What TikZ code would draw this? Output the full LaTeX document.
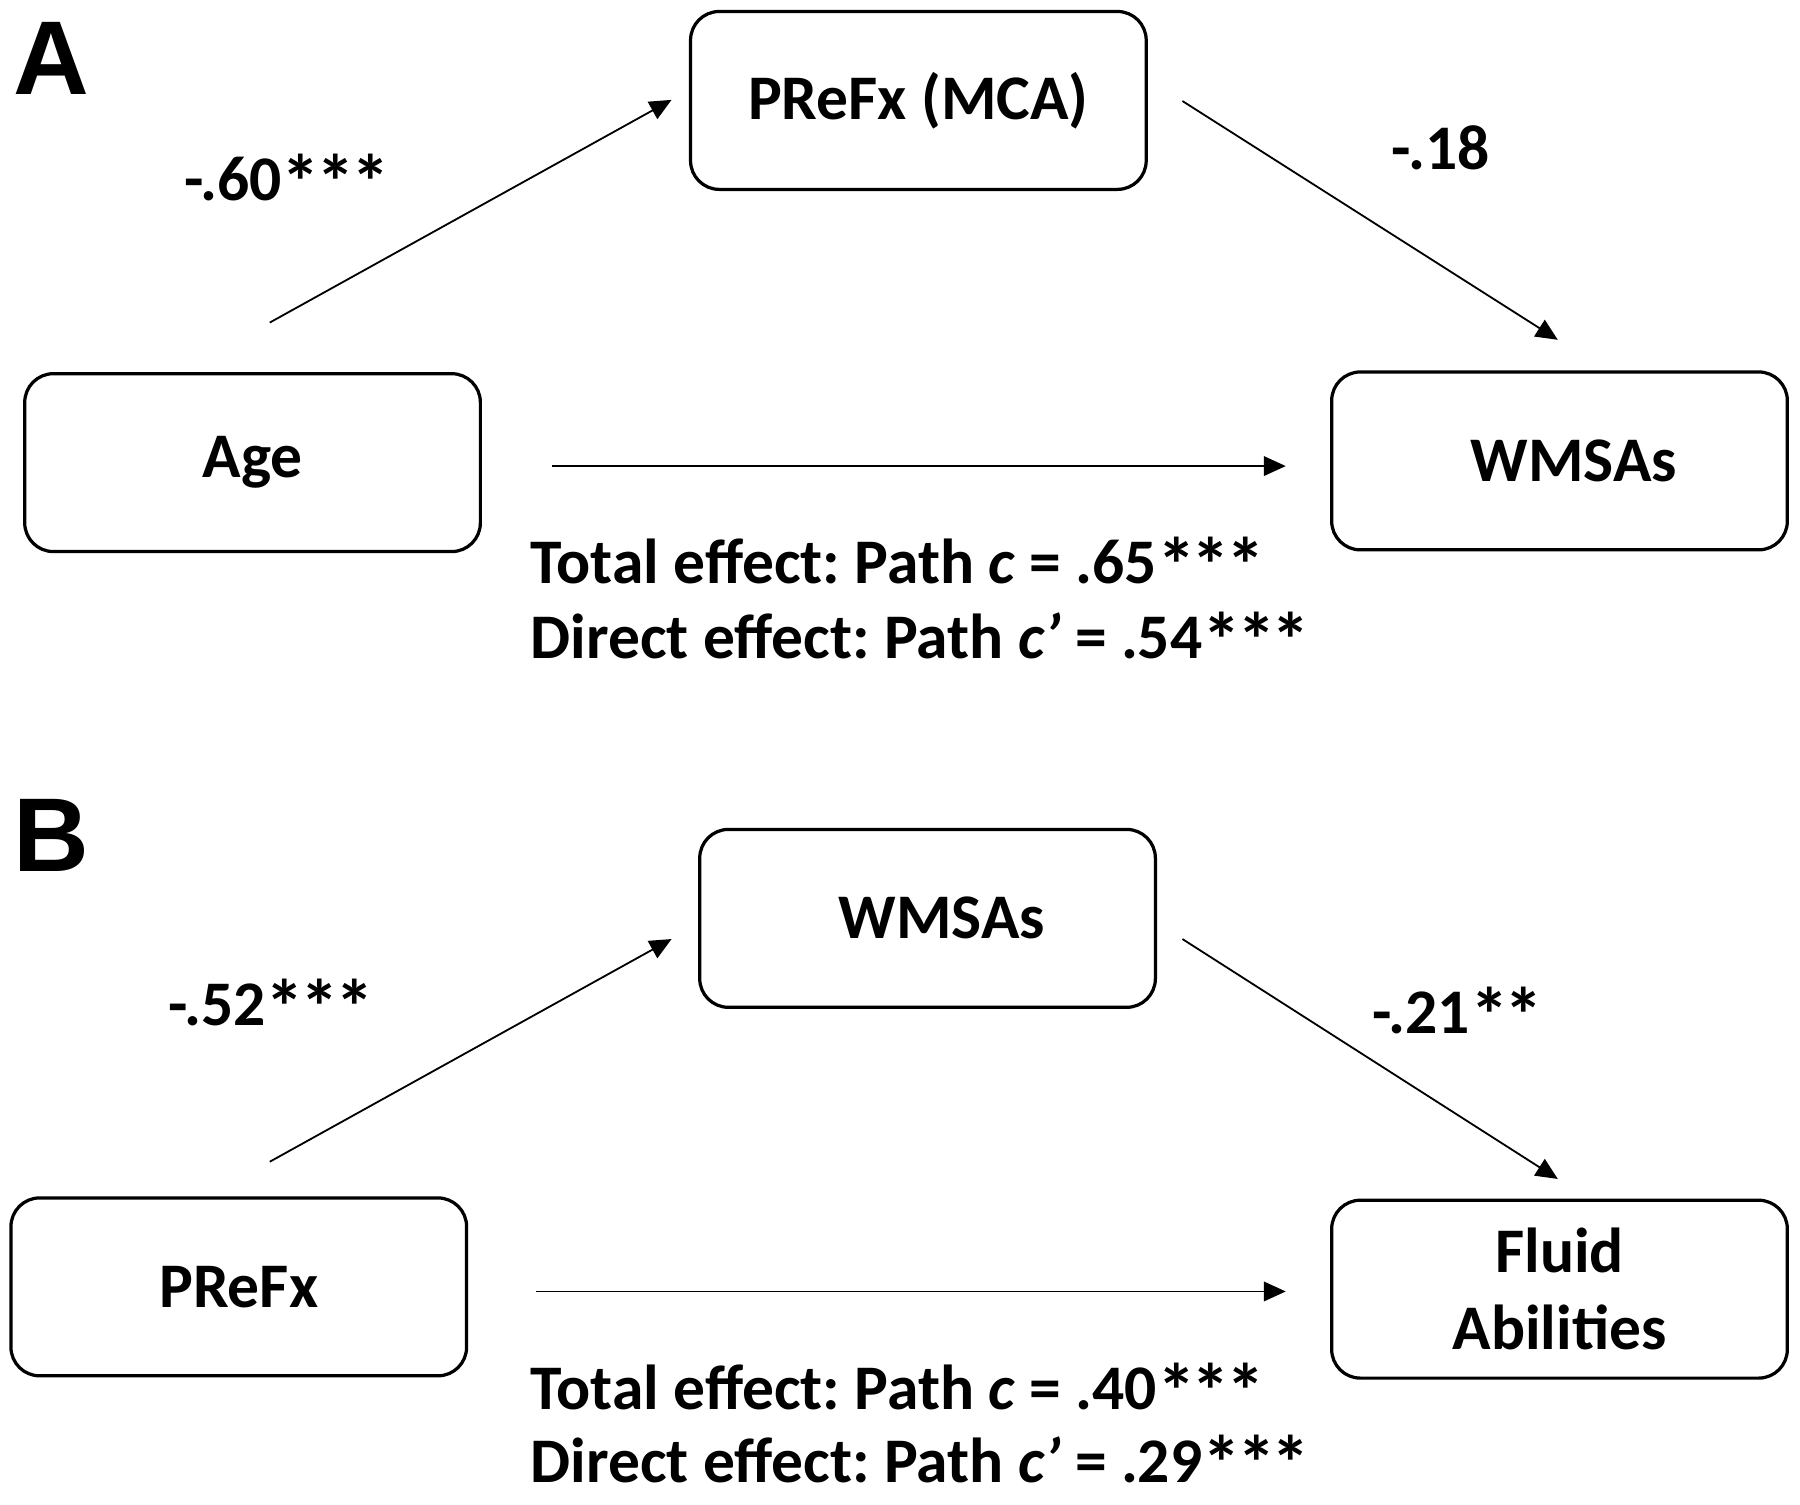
\documentclass[tikz,border=0pt]{standalone}
\usepackage{fontspec}
\usepackage{graphicx}
\setmainfont{Carlito}
\newfontfamily\labfont{Liberation Sans}
\usetikzlibrary{arrows.meta}
\newcommand\onestar{\raisebox{-0.14em}[\height][0pt]{\scalebox{1.22}{*}}}
\newcommand\stars{\onestar\kern-0.06em\onestar\kern-0.06em\onestar}
\newcommand\twostars{\onestar\kern-0.06em\onestar}
\frenchspacing
\begin{document}
\begin{tikzpicture}[x=0.02cm,y=-0.02cm,
  box/.style={draw, line width=1.6pt, rounded corners=0.5cm, minimum width=7.94cm, minimum height=3.1cm, inner sep=0pt, align=center, font=\fontsize{31.5}{38}\selectfont\bfseries},
  txt/.style={font=\fontsize{31.5}{38}\selectfont\bfseries, inner sep=0pt, anchor=base},
  panel/.style={font=\fontsize{52}{54}\selectfont\labfont\bfseries, inner sep=0pt},
  conn/.style={line width=0.9pt, -{Triangle[length=0.38cm,width=0.34cm]}}]
\useasboundingbox (0,0) rectangle (1568,1311);
% Panel A
\node[panel] (pA) at (45,51) {A};
\node[box] (prefxmca) at (800,87.5) {PReFx (MCA)};
\node[box] (age) at (220,403) {Age};
\node[box] (wmsasA) at (1358.5,401.5) {\hspace{0.5cm}WMSAs};
\coordinate (a1) at (235,281);
\coordinate (a2) at (585,87);
\coordinate (a3) at (1030,88);
\coordinate (a4) at (1357,296);
\coordinate (a5) at (481,406);
\coordinate (a6) at (1120,406);
\draw[conn] (a1) -- (a2);
\draw[conn] (a3) -- (a4);
\draw[conn] (a5) -- (a6);
\node[txt] (lA1) at (250,175) {-.60\stars};
\node[txt] (lA2) at (1255,148) {-.18};
\node[txt, anchor=base west] (tA) at (462,508) {Total effect: Path \textit{c} = .65\stars};
\node[txt, anchor=base west] (dA) at (462,574) {Direct effect: Path \textit{c’} = .54\stars};
% Panel B
\node[panel] (pB) at (45,728) {B};
\node[box] (wmsasB) at (808,800) {\hspace{0.5cm}WMSAs};
\node[box] (prefx) at (208,1121) {PReFx};
\node[box] (fluid) at (1358.5,1123) {Fluid\\Abilities};
\coordinate (b1) at (235,1012);
\coordinate (b2) at (585,818);
\coordinate (b3) at (1030,818);
\coordinate (b4) at (1357,1027);
\coordinate (b5) at (467,1125);
\coordinate (b6) at (1120,1125);
\draw[conn] (b1) -- (b2);
\draw[conn] (b3) -- (b4);
\draw[conn] (b5) -- (b6);
\node[txt] (lB1) at (236,893) {-.52\stars};
\node[txt] (lB2) at (1270,900) {-.21\twostars};
\node[txt, anchor=base west] (tB) at (462,1228) {Total effect: Path \textit{c} = .40\stars};
\node[txt, anchor=base west] (dB) at (462,1291) {Direct effect: Path \textit{c’} = .29\stars};
\end{tikzpicture}
\end{document}
